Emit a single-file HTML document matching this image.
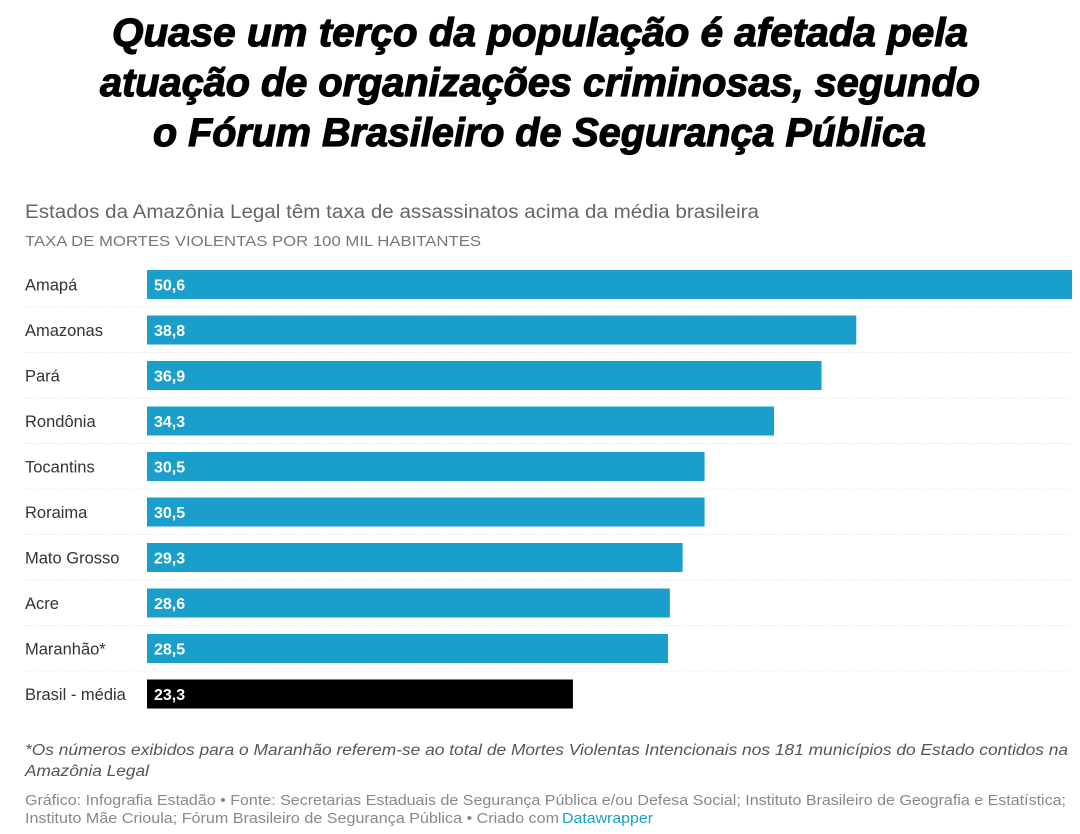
<!DOCTYPE html>
<html><head><meta charset="utf-8"><style>
html,body{margin:0;padding:0;background:#fff;}
svg{display:block;font-family:"Liberation Sans",sans-serif;}
</style></head><body>
<svg id="chart" width="1080" height="834" viewBox="0 0 1080 834">
<g font-weight="bold" font-style="italic" font-size="40" fill="#000" stroke="#000" stroke-width="1.2" text-anchor="start">
<text x="112" y="46" textLength="856" lengthAdjust="spacingAndGlyphs">Quase um terço da população é afetada pela</text>
<text x="100" y="96" textLength="880" lengthAdjust="spacingAndGlyphs">atuação de organizações criminosas, segundo</text>
<text x="153" y="146" textLength="773" lengthAdjust="spacingAndGlyphs">o Fórum Brasileiro de Segurança Pública</text>
</g>
<text x="25" y="218" font-size="19" fill="#666" textLength="734" lengthAdjust="spacingAndGlyphs">Estados da Amazônia Legal têm taxa de assassinatos acima da média brasileira</text>
<text x="25" y="246" font-size="15" fill="#777" textLength="456" lengthAdjust="spacingAndGlyphs">TAXA DE MORTES VIOLENTAS POR 100 MIL HABITANTES</text>
<g id="bars"></g>
<g font-size="16" fill="#555">
<text x="25" y="755" font-style="italic" textLength="1043" lengthAdjust="spacingAndGlyphs">*Os números exibidos para o Maranhão referem-se ao total de Mortes Violentas Intencionais nos 181 municípios do Estado contidos na</text>
<text x="25" y="776" font-style="italic" textLength="124" lengthAdjust="spacingAndGlyphs">Amazônia Legal</text>
</g>
<g font-size="15" fill="#888">
<text x="25" y="805" textLength="1041" lengthAdjust="spacingAndGlyphs">Gráfico: Infografia Estadão • Fonte: Secretarias Estaduais de Segurança Pública e/ou Defesa Social; Instituto Brasileiro de Geografia e Estatística;</text>
<text x="25" y="823" textLength="534" lengthAdjust="spacingAndGlyphs">Instituto Mãe Crioula; Fórum Brasileiro de Segurança Pública • Criado com</text>
<text x="562" y="823" fill="#1a9fcb" textLength="91" lengthAdjust="spacingAndGlyphs">Datawrapper</text>
</g>
</svg>
<script>
const categories = ["Amapá","Amazonas","Pará","Rondônia","Tocantins","Roraima","Mato Grosso","Acre","Maranhão*","Brasil - média"];
const values = [50.6,38.8,36.9,34.3,30.5,30.5,29.3,28.6,28.5,23.3];
const valueLabels = ["50,6","38,8","36,9","34,3","30,5","30,5","29,3","28,6","28,5","23,3"];
const NS="http://www.w3.org/2000/svg";
const x0=147, x1=1072, xMax=50.6;
const xScale=v=>x0+(v/xMax)*(x1-x0);
const yTop=270, step=45.5, bh=29;
const yScale=i=>yTop+i*step;
const g=document.getElementById('bars');
categories.forEach((c,i)=>{
  const y=yScale(i);
  const row=document.createElementNS(NS,'g');
  
  
  const lab=document.createElementNS(NS,'text');
  
  
  lab.setAttribute('x',25);lab.setAttribute('y',y+bh/2+6);
  lab.setAttribute('font-size','16.5');lab.setAttribute('fill','#333');
  lab.textContent=c;row.appendChild(lab);
  const r=document.createElementNS(NS,'rect');
  
  
  r.setAttribute('x',x0);r.setAttribute('y',y);
  r.setAttribute('width',xScale(values[i])-x0);r.setAttribute('height',bh);
  r.setAttribute('fill',i===categories.length-1?'#000':'#1a9fcb');
  row.appendChild(r);
  const t=document.createElementNS(NS,'text');
  
  
  t.setAttribute('x',x0+7);t.setAttribute('y',y+bh/2+6);
  t.setAttribute('font-size','16');t.setAttribute('font-weight','bold');t.setAttribute('fill','#fff');
  t.textContent=valueLabels[i];row.appendChild(t);
  if(i<categories.length-1){
    const l=document.createElementNS(NS,'line');
    
    
    l.setAttribute('x1',25);l.setAttribute('x2',1072);
    l.setAttribute('y1',y+bh+8);l.setAttribute('y2',y+bh+8);
    l.setAttribute('stroke','#ddd');l.setAttribute('stroke-dasharray','1,2');
    row.appendChild(l);
  }
  g.appendChild(row);
});
</script>
</body></html>
